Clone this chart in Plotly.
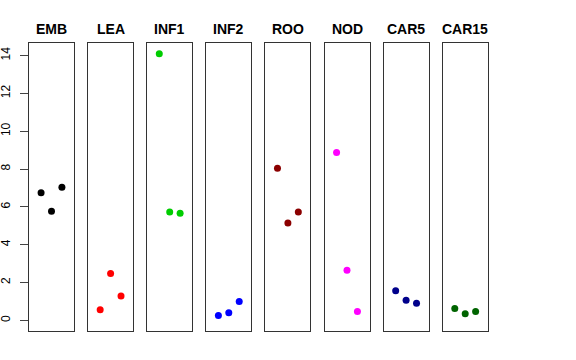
import plotly.graph_objects as go

tissues = ["EMB", "LEA", "INF1", "INF2", "ROO", "NOD", "CAR5", "CAR15"]
colors = ["#000000", "#FF0000", "#00CD00", "#0000FF", "#8B0000", "#FF00FF", "#00008B", "#006400"]
values = [
    [6.75, 5.77, 7.04],
    [0.56, 2.47, 1.29],
    [14.1, 5.73, 5.66],
    [0.26, 0.40, 1.00],
    [8.04, 5.15, 5.73],
    [8.87, 2.65, 0.46],
    [1.57, 1.06, 0.90],
    [0.63, 0.35, 0.46],
]
y_ticks = [0, 2, 4, 6, 8, 10, 12, 14]
reps = [1, 2, 3]

W, H = 576, 360
L, R, T, B = 29.0, 488.0, 43.0, 331.0
PW, PH = R - L, B - T
pw, step = 45.0, 59.1
ylo, yhi = -0.565, 14.665

fig = go.Figure()
layout = dict(
    width=W, height=H, margin=dict(l=L, r=W - R, t=T, b=H - B, pad=0, autoexpand=False),
    paper_bgcolor="white", plot_bgcolor="white", showlegend=False,
    font=dict(family="Liberation Sans, Arial, sans-serif", color="black"),
)
annotations = []
for i, (name, col, vals) in enumerate(zip(tissues, colors, values)):
    idx = "" if i == 0 else str(i + 1)
    x0 = i * step
    x1 = min(x0 + pw, PW)
    fig.add_trace(go.Scatter(
        x=reps, y=vals, mode="markers",
        marker=dict(color=col, size=7, line=dict(width=0)),
        xaxis="x" + idx, yaxis="y" + idx, hoverinfo="skip",
    ))
    layout["xaxis" + idx] = dict(
        domain=[x0 / PW, x1 / PW], range=[-0.16, 4.16], showticklabels=False,
        ticks="", showgrid=False, zeroline=False, showline=True, mirror=True,
        linecolor="#333333", linewidth=1, anchor="y" + idx, fixedrange=True,
        automargin=False,
    )
    ax = dict(
        domain=[0, 1], range=[ylo, yhi],
        showgrid=False, zeroline=False, showline=True, mirror=True,
        linecolor="#333333", linewidth=1, anchor="x" + idx, fixedrange=True,
        automargin=False,
    )
    if i == 0:
        ax.update(tickmode="array", tickvals=y_ticks, ticktext=[str(t) for t in y_ticks],
                  ticks="outside", ticklen=8, tickcolor="#444444", tickangle=-90,
                  ticklabelstandoff=5, tickfont=dict(size=12, color="black"))
    else:
        ax.update(showticklabels=False, ticks="")
    layout["yaxis" + idx] = ax
    annotations.append(dict(
        text="<b>" + name + "</b>", x=(x0 + x1) / 2 / PW, y=1 + (T - 29) / PH,
        xref="paper", yref="paper", showarrow=False, xanchor="center", yanchor="middle",
        font=dict(size=14, color="black"),
    ))
layout["annotations"] = annotations
fig.update_layout(**layout)
fig.write_html("out.html", config={"displayModeBar": False},
               post_script="document.body.style.margin='0px';")
